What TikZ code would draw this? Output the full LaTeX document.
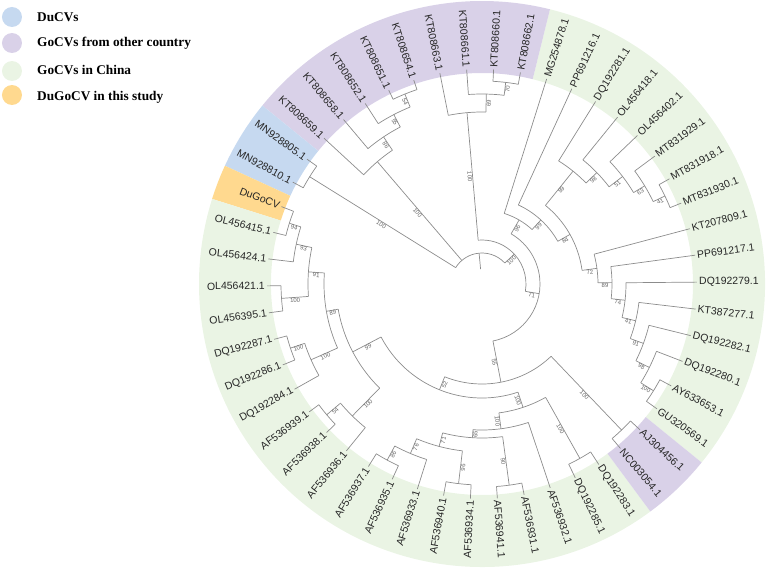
\documentclass[tikz,border=0pt]{standalone}
\usepackage{fontspec}
\setmainfont{Liberation Serif}
\newfontfamily\arialfont{Liberation Sans}
\usetikzlibrary{calc}
\definecolor{ducv}{HTML}{C6D9F0}
\definecolor{gocvother}{HTML}{D9D1E8}
\definecolor{gocvchina}{HTML}{EAF4E4}
\definecolor{dugocv}{HTML}{FFD98F}
\tikzset{
  branch/.style={black!45,line width=0.7pt},
  leaf/.style={font=\arialfont\fontsize{10.5}{12}\selectfont,text=black!85,inner sep=2pt},
  bootlbl/.style={font=\arialfont\fontsize{6}{6}\selectfont,text=black!60,inner sep=0.4pt,anchor=north},
  legendtext/.style={font=\bfseries\fontsize{13.3}{15}\selectfont,anchor=base west,inner sep=0pt}
}
% ring segment: colour, from angle, to angle
\newcommand\band[3]{
  \fill[#1] ({#2+\turn}:\inR pt) arc[start angle={#2+\turn},end angle={#3+\turn},radius=\inR pt]
    -- ({#3+\turn}:\outR pt) arc[start angle={#3+\turn},end angle={#2+\turn},radius=\outR pt] -- cycle;
}
% bootstrap value on a branch: angle, r from, r to, value
\newcommand\boot[4]{
  \pgfmathsetmacro\bA{mod(#1+\turn+360,360)}
  \pgfmathsetmacro\bR{(#2+#3)/2}
  \pgfmathsetmacro\bS{(\bA>90)*(\bA<270)}
  \ifdim\bS pt>0.5pt
    \node[bootlbl,rotate=\bA+180] at (\bA:\bR pt) {#4};
  \else
    \node[bootlbl,rotate=\bA] at (\bA:\bR pt) {#4};
  \fi
}
% inner node: angle, parent r, r, first child, last child, bootstrap
\newcommand\clade[6]{
  \draw[branch] ({#1+\turn}:#2pt) -- ({#1+\turn}:#3pt);
  \draw[branch] ({#4+\turn}:#3pt) arc[start angle={#4+\turn},end angle={#5+\turn},radius=#3pt];
  \boot{#1}{#2}{#3}{#6}
}

\begin{document}
\begin{tikzpicture}[x=1pt,y=1pt]
  \def\turn{0.5}                % rotation of the whole tree
  \def\tipR{215}                % radius of the tips
  \def\inR{211}                 % inner radius of the colour ring
  \def\outR{283}                % outer radius of the colour ring
  \useasboundingbox (-482,-284) rectangle (285,284);

  % RING
  \band{gocvchina}{-39.6}{75.6}
  \band{gocvother}{75.6}{140.4}
  \band{ducv}{140.4}{154.8}
  \band{dugocv}{154.8}{162}
  \band{gocvchina}{162}{306}
  \band{gocvother}{306}{320.4}

  % ROOT
  \draw[branch] ({94.9+\turn}:15pt) -- ({94.9+\turn}:31pt);
  \draw[branch] ({42.2+\turn}:31pt) arc[start angle={42.2+\turn},end angle={147.6+\turn},radius=31pt];

  % DuCVs and KT8086xx
  \clade{147.6}{31}{203}{144}{151.2}{100}
  \clade{130.05}{31}{161}{123.3}{136.8}{100}
  \clade{123.3}{161}{177}{117}{129.6}{86}
  \clade{117}{177}{191}{111.6}{122.4}{55}
  \clade{111.6}{191}{205}{108}{115.2}{54}
  \clade{42.2}{31}{44}{-10.1}{94.5}{100}
  \clade{94.5}{44}{172}{88.2}{100.8}{100}
  \clade{88.2}{172}{190}{82.8}{93.6}{69}
  \clade{82.8}{190}{203}{79.2}{86.4}{70}

  % UPPER RIGHT
  \clade{-10.1}{44}{58}{-79.6}{59.4}{71}
  \clade{59.4}{58}{74}{46.9}{72}{96}
  \clade{46.9}{74}{87}{28.9}{64.8}{99}
  \clade{28.9}{87}{101}{7.26}{50.6}{84}
  \clade{50.6}{101}{145}{43.65}{57.6}{89}
  \clade{43.65}{145}{160}{36.9}{50.4}{98}
  \clade{36.9}{160}{177}{30.6}{43.2}{51}
  \clade{30.6}{177}{190}{25.2}{36}{63}
  \clade{25.2}{190}{203}{21.6}{28.8}{41}
  \clade{7.26}{101}{116}{0.11}{14.4}{72}
  \clade{0.11}{116}{130}{-6.98}{7.2}{89}
  \clade{-6.98}{130}{144}{-13.95}{0}{74}
  \clade{-13.95}{144}{158}{-20.7}{-7.2}{41}
  \clade{-20.7}{158}{172}{-27}{-14.4}{91}
  \clade{-27}{172}{187}{-32.4}{-21.6}{98}
  \clade{-32.4}{187}{202}{-36}{-28.8}{100}

  % LOWER HALF
  \clade{280.4}{58}{100}{247.6}{313.2}{55}
  \clade{313.2}{100}{202}{309.6}{316.8}{100}
  \clade{247.6}{100}{114}{207.2}{287.9}{52}
  \clade{207.2}{114}{146}{189.45}{225}{99}
  \clade{189.45}{146}{158}{175.5}{203.4}{89}
  \clade{175.5}{158}{174}{167.4}{183.6}{91}
  \clade{167.4}{174}{190}{162}{172.8}{93}
  \clade{162}{190}{202}{158.4}{165.6}{94}
  \clade{183.6}{174}{201}{180}{187.2}{100}
  \clade{203.4}{158}{187}{198}{208.8}{100}
  \clade{198}{187}{202}{194.4}{201.6}{100}
  \clade{225}{146}{185}{219.6}{230.4}{100}
  \clade{219.6}{185}{203}{216}{223.2}{54}
  \clade{287.9}{114}{130}{276.98}{298.8}{100}
  \clade{298.8}{130}{200}{295.2}{302.4}{100}
  \clade{276.98}{130}{146}{265.95}{288}{100}
  \clade{265.95}{146}{154}{254.7}{277.2}{65}
  \clade{277.2}{154}{203}{273.6}{280.8}{90}
  \clade{254.7}{154}{168}{246.6}{262.8}{71}
  \clade{262.8}{168}{201}{259.2}{266.4}{96}
  \clade{246.6}{168}{184}{241.2}{252}{76}
  \clade{241.2}{184}{200}{237.6}{244.8}{86}

  % LEAVES
  \foreach \k/\nm/\pr in {0/DQ192279.1/144, 1/PP691217.1/130, 2/KT207809.1/116,
      3/MT831930.1/203, 4/MT831918.1/203, 5/MT831929.1/190, 6/OL456402.1/177,
      7/OL456418.1/160, 8/DQ192281.1/145, 9/PP691216.1/87, 10/MG254878.1/74,
      11/KT808662.1/203, 12/KT808660.1/203, 13/KT808661.1/190, 14/KT808663.1/172,
      15/KT808654.1/205, 16/KT808651.1/205, 17/KT808652.1/191, 18/KT808658.1/177,
      19/KT808659.1/161, 20/MN928805.1/203, 21/MN928810.1/203, 22/DuGoCV/202,
      23/OL456415.1/202, 24/OL456424.1/190, 25/OL456421.1/201, 26/OL456395.1/201,
      27/DQ192287.1/202, 28/DQ192286.1/202, 29/DQ192284.1/187, 30/AF536939.1/203,
      31/AF536938.1/203, 32/AF536936.1/185, 33/AF536937.1/200, 34/AF536935.1/200,
      35/AF536933.1/184, 36/AF536940.1/201, 37/AF536934.1/201, 38/AF536941.1/203,
      39/AF536931.1/203, 40/AF536932.1/146, 41/DQ192285.1/200, 42/DQ192283.1/200,
      43/NC003054.1/202, 44/AJ304456.1/202, -5/GU320569.1/202, -4/AY633653.1/202,
      -3/DQ192280.1/187, -2/DQ192282.1/172, -1/KT387277.1/158}{
    \pgfmathsetmacro\a{7.2*\k+\turn}
    \pgfmathsetmacro\s{(\a>90)*(\a<270)}
    \draw[branch] (\a:\pr pt) -- (\a:\tipR pt);
    \ifdim\s pt>0.5pt
      \node[leaf,anchor=east,rotate=\a+180] (l\k) at (\a:\tipR pt) {\nm};
    \else
      \node[leaf,anchor=west,rotate=\a] (l\k) at (\a:\tipR pt) {\nm};
    \fi
  }

  % LEGEND
  \foreach \cy/\ty/\col/\txt [count=\i] in {267/262.3/ducv/DuCVs,
      241/237.3/gocvother/GoCVs from other country,
      213/209/gocvchina/GoCVs in China,
      189/183.3/dugocv/DuGoCV in this study}{
    \fill[\col] (-470,\cy) circle[radius=10pt];
    \node[legendtext] (key\i) at (-445,\ty) {\txt};
  }
\end{tikzpicture}
\end{document}
